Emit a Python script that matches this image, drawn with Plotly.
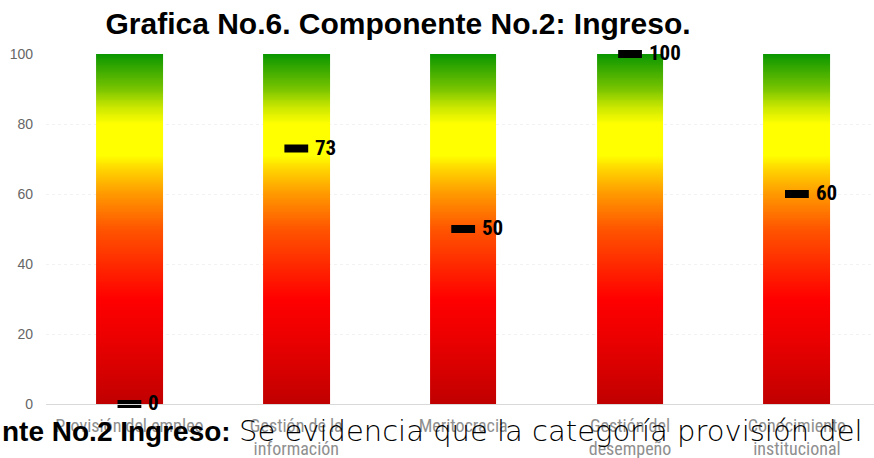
import plotly.graph_objects as go

# Categories of Component No.2 (Ingreso) and their scores
categories = [
    "Provisión del empleo",
    "Gestión de la<br>información",
    "Meritocracia",
    "Gestión del<br>desempeño",
    "Conocimiento<br>institucional",
]
scores = [0, 73, 50, 100, 60]
scale_max = 100
y_ticks = [0, 20, 40, 60, 80, 100]

# Red -> yellow -> green gauge colours
gauge_colors = [
    [0.00, "#c00000"],
    [0.10, "#d80000"],
    [0.20, "#ee0000"],
    [0.30, "#ff0000"],
    [0.40, "#ff2a00"],
    [0.50, "#ff5500"],
    [0.60, "#ff9900"],
    [0.67, "#ffd400"],
    [0.71, "#ffff00"],
    [0.80, "#ffff00"],
    [0.85, "#c8e600"],
    [0.90, "#78c400"],
    [1.00, "#0a9600"],
]

half_width = 0.2
n = len(categories)
positions = list(range(n))

# Column edges: each gauge column followed by an empty gap column
x_edges = []
for p in positions:
    x_edges += [p - half_width, p + half_width]

step = 0.25
levels = int(scale_max / step)
y_edges = [i * step for i in range(levels + 1)]
z = []
for i in range(levels):
    mid = (y_edges[i] + y_edges[i + 1]) / 2
    row = []
    for j in range(2 * n - 1):
        row.append(mid if j % 2 == 0 else None)
    z.append(row)

fig = go.Figure()

fig.add_trace(go.Heatmap(
    x=x_edges, y=y_edges, z=z,
    colorscale=gauge_colors, zmin=0, zmax=scale_max,
    showscale=False, hoverinfo="skip",
))

narrow = "Liberation Sans Narrow, Arial Narrow, Roboto Condensed, sans-serif"

# Score markers: short black dash on each gauge
fig.add_trace(go.Scatter(
    x=positions, y=scores,
    mode="markers",
    marker=dict(symbol="line-ew", size=17, line=dict(width=8, color="black")),
    cliponaxis=False,
    hoverinfo="skip",
))

# Score labels to the right of each dash
for p, s in zip(positions, scores):
    fig.add_annotation(
        x=p, y=s, xref="x", yref="y",
        text=str(s), showarrow=False,
        xanchor="left", yanchor="middle", xshift=17, yshift=1,
        font=dict(family=narrow, size=21, color="black", weight="bold"),
    )

fig.update_layout(
    width=874, height=458,
    margin=dict(l=46, r=0, t=54, b=54),
    paper_bgcolor="white", plot_bgcolor="white",
    showlegend=False,
    title=dict(
        text="<b>Grafica No.6. Componente No.2: Ingreso.</b>",
        x=(398 - 46) / 828, xref="paper", xanchor="center",
        y=1 - 23 / 458, yanchor="middle",
        font=dict(family="Liberation Sans, Arial, sans-serif", size=30, color="black"),
    ),
    xaxis=dict(
        range=[-0.5, 4.462],
        tickvals=positions, ticktext=categories,
        tickfont=dict(family=narrow, size=18, color="#8f8f8f"),
        showgrid=False, zeroline=False,
        showline=True, linecolor="#d9d9d9", linewidth=1,
        ticklabelstandoff=5,
    ),
    yaxis=dict(
        range=[0, scale_max],
        tickvals=y_ticks,
        tickfont=dict(family="Liberation Sans, Arial, sans-serif", size=14, color="#666666"),
        showgrid=True, gridcolor="#f2f2f2", griddash="dot",
        zeroline=False, showline=False,
        ticklabelstandoff=12,
    ),
)

# Caption line running along the bottom edge
caption_y = -(431 - 404) / 350
fig.add_annotation(
    text="<b>nte No.2 Ingreso:</b>",
    xref="paper", yref="paper",
    x=(0 - 46) / 828, xanchor="left",
    y=caption_y, yanchor="middle",
    showarrow=False,
    font=dict(family="Liberation Sans, Arial, sans-serif", size=28, color="black"),
)
fig.add_annotation(
    text="Se evidencia que la categoría provisión del",
    xref="paper", yref="paper",
    x=(237 - 46) / 828, xanchor="left",
    y=caption_y, yanchor="middle",
    showarrow=False,
    font=dict(family="DejaVu Sans, sans-serif", size=29, color="black", weight=300),
)

fig.write_html("out.html")
